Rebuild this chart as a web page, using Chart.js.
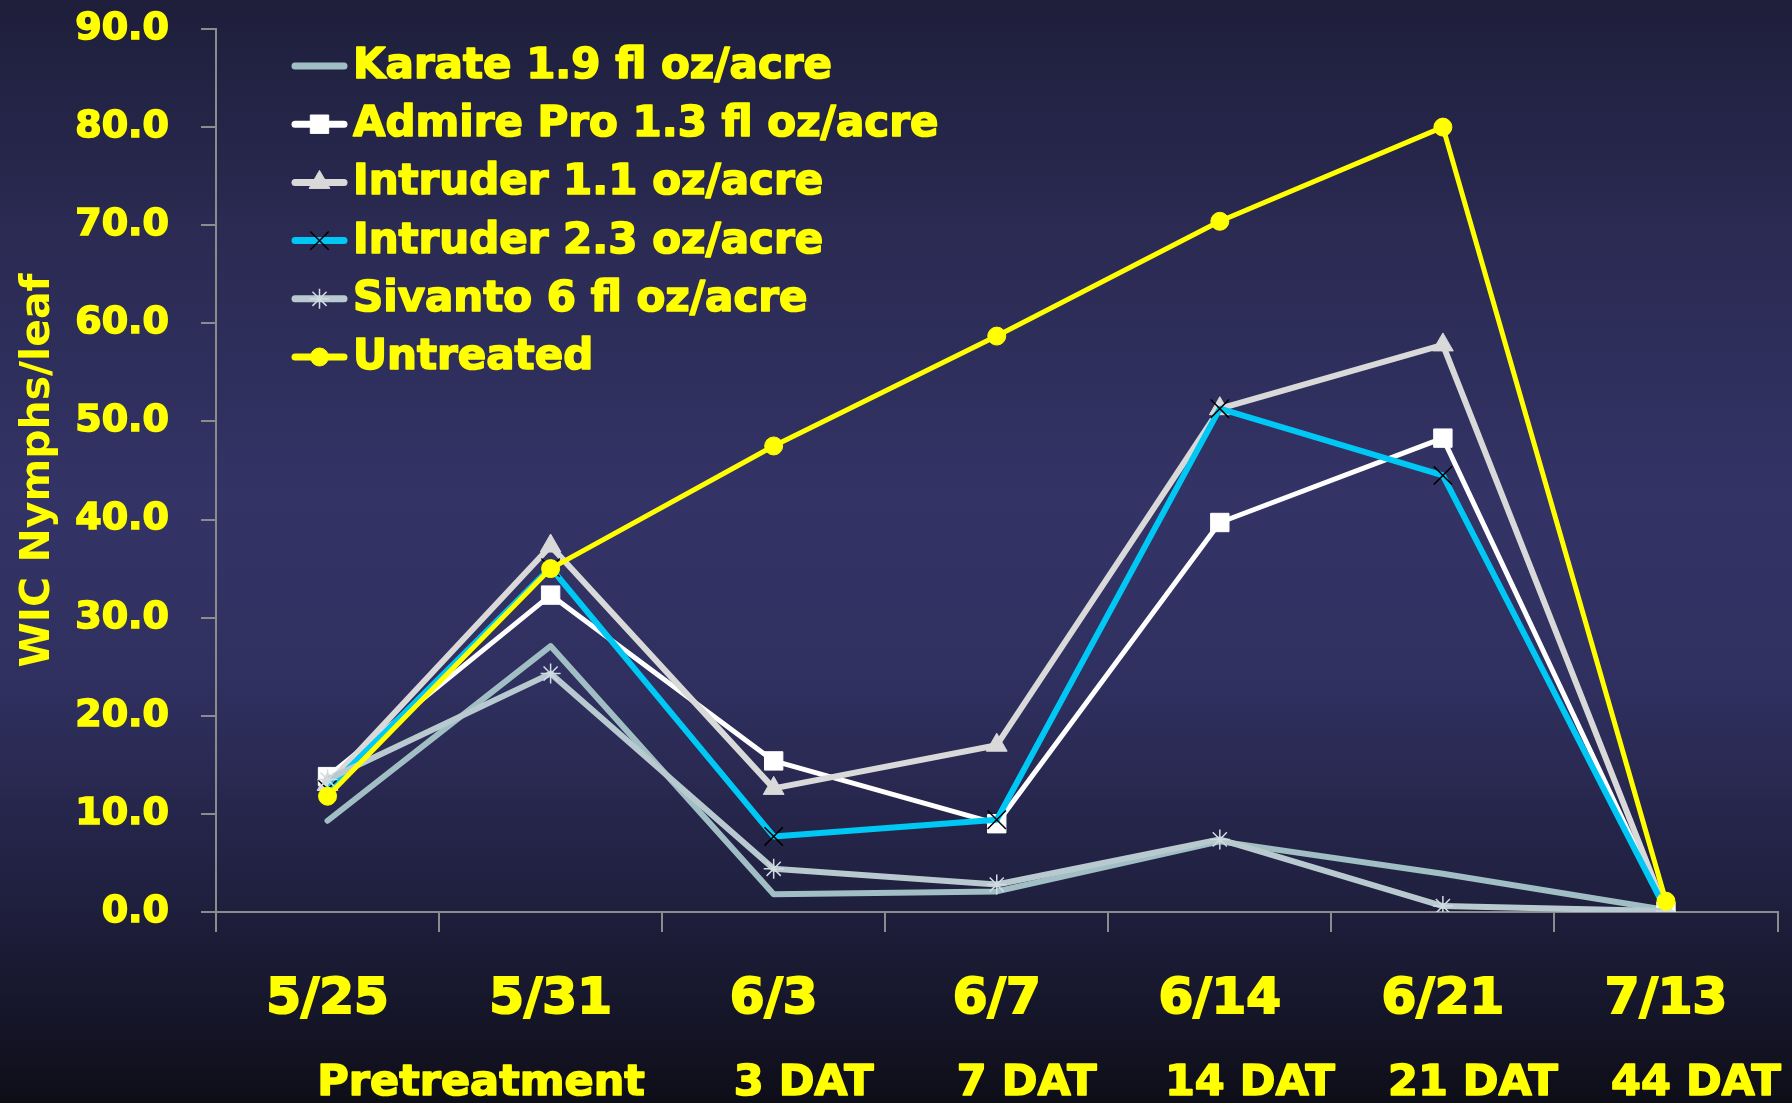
<!DOCTYPE html>
<html>
<head>
<meta charset="utf-8">
<script src="https://cdn.jsdelivr.net/npm/chart.js@4.4.1/dist/chart.umd.min.js"></script>
<style>
  html, body { margin: 0; padding: 0; background: #15152a; }
  #wrap { width: 1792px; height: 1103px; }
  canvas { display: block; }
</style>
</head>
<body>
<div id="wrap"><canvas id="c" width="1792" height="1103"></canvas></div>
<script>
// ---- data ----
const categories = ["5/25", "5/31", "6/3", "6/7", "6/14", "6/21", "7/13"];
const karate     = [9.3, 27.1, 1.8, 2.1, 7.2, 3.9, 0.2];
const admirePro  = [13.8, 32.3, 15.4, 9.0, 39.7, 48.3, 0.1];
const intruder11 = [13.0, 37.3, 12.6, 17.0, 51.3, 57.8, 0.1];
const intruder23 = [12.5, 35.1, 7.7, 9.4, 51.3, 44.5, 0.2];
const sivanto    = [13.5, 24.3, 4.4, 2.8, 7.4, 0.6, 0.1];
const untreated  = [11.8, 35.0, 47.5, 58.7, 70.4, 80.0, 1.1];
const seriesNames = ["Karate 1.9 fl oz/acre", "Admire Pro 1.3 fl oz/acre", "Intruder 1.1 oz/acre",
                     "Intruder 2.3 oz/acre", "Sivanto 6 fl oz/acre", "Untreated"];
const phaseLabels = ["Pretreatment", "3 DAT", "7 DAT", "14 DAT", "21 DAT", "44 DAT"];
const phaseAt     = [0.5, 2, 3, 4, 5, 6];   // category positions the phase labels belong to
const yTitle = "WIC Nymphs/leaf";

const FONT = "'DejaVu Sans', 'Liberation Sans', Arial, sans-serif";
const YELLOW = "#ffff00";

const bgPlugin = {
  id: 'bg',
  beforeDraw(chart) {
    const { ctx, width, height } = chart;
    const g = ctx.createLinearGradient(0, 0, 0, height);
    g.addColorStop(0, '#1e1e3b');
    g.addColorStop(0.2, '#2a2a52');
    g.addColorStop(0.45, '#333366');
    g.addColorStop(0.62, '#303060');
    g.addColorStop(0.83, '#1e1e3c');
    g.addColorStop(1, '#0e0e18');
    ctx.save();
    ctx.fillStyle = g;
    ctx.fillRect(0, 0, width, height);
    ctx.restore();
  }
};

function drawMarker(ctx, ds, x, y) {
  const style = ds.pointStyle;
  const r = ds.pointRadius;
  if (!r) return;
  ctx.save();
  ctx.fillStyle = ds.pointBackgroundColor;
  ctx.strokeStyle = ds.pointBorderColor;
  ctx.lineWidth = ds.pointBorderWidth;
  ctx.lineCap = 'butt';
  ctx.beginPath();
  if (style === 'circle') {
    ctx.arc(x, y, r, 0, Math.PI * 2);
    ctx.fill(); ctx.stroke();
  } else if (style === 'rect') {
    const s = Math.SQRT1_2 * r;
    ctx.rect(x - s, y - s, 2 * s, 2 * s);
    ctx.fill(); ctx.stroke();
  } else if (style === 'triangle') {
    let rad = 0;
    ctx.moveTo(x + Math.sin(rad) * r, y - Math.cos(rad) * r);
    rad += 2 * Math.PI / 3;
    ctx.lineTo(x + Math.sin(rad) * r, y - Math.cos(rad) * r);
    rad += 2 * Math.PI / 3;
    ctx.lineTo(x + Math.sin(rad) * r, y - Math.cos(rad) * r);
    ctx.closePath();
    ctx.fill(); ctx.stroke();
  } else if (style === 'crossRot') {
    const o = Math.cos(Math.PI / 4) * r;
    ctx.moveTo(x - o, y - o); ctx.lineTo(x + o, y + o);
    ctx.moveTo(x - o, y + o); ctx.lineTo(x + o, y - o);
    ctx.stroke();
  } else if (style === 'star') {
    const o = Math.cos(Math.PI / 4) * r;
    ctx.moveTo(x, y - r); ctx.lineTo(x, y + r);
    ctx.moveTo(x - r, y); ctx.lineTo(x + r, y);
    ctx.moveTo(x - o, y - o); ctx.lineTo(x + o, y + o);
    ctx.moveTo(x - o, y + o); ctx.lineTo(x + o, y - o);
    ctx.stroke();
  }
  ctx.restore();
}

function boldText(ctx, t, x, y, sw) {
  ctx.lineWidth = sw;
  ctx.strokeStyle = ctx.fillStyle;
  ctx.lineJoin = 'round';
  ctx.strokeText(t, x, y);
  ctx.fillText(t, x, y);
}

const legendPlugin = {
  id: 'customLegend',
  afterDraw(chart) {
    const { ctx } = chart;
    const x0 = 292, x1 = 347, tx = 353, y0 = 66, dy = 58.2;
    chart.data.datasets.forEach((ds, i) => {
      const y = y0 + i * dy;
      ctx.save();
      ctx.strokeStyle = ds.borderColor;
      ctx.lineWidth = 7;
      ctx.lineCap = 'round';
      ctx.beginPath();
      ctx.moveTo(x0 + 3, y); ctx.lineTo(x1 - 3, y);
      ctx.stroke();
      ctx.restore();
      drawMarker(ctx, ds, (x0 + x1) / 2, y);
      ctx.save();
      ctx.fillStyle = YELLOW;
      ctx.font = "bold 42px " + FONT;
      ctx.textAlign = 'left';
      ctx.textBaseline = 'middle';
      boldText(ctx, ds.label, tx, y + 1, 1.6);
      ctx.restore();
    });
  }
};

const phasePlugin = {
  id: 'phaseLabels',
  afterDraw(chart) {
    const { ctx } = chart;
    const xs = chart.scales.x;
    ctx.save();
    ctx.fillStyle = YELLOW;
    ctx.font = "bold 43px " + FONT;
    ctx.textAlign = 'center';
    ctx.textBaseline = 'alphabetic';
    phaseLabels.forEach((t, i) => {
      const shift = i === 0 ? 42 : 30;
      const x = xs.getPixelForValue(phaseAt[i]) + shift;
      boldText(ctx, t, x, 1095, 1.6);
    });
    ctx.restore();
  }
};

function mk(label, data, color, width, style, radius, bg, border, bw, order) {
  return {
    label, data,
    borderColor: color, backgroundColor: color,
    borderWidth: width,
    pointStyle: style,
    pointRadius: radius,
    pointHoverRadius: radius,
    pointBackgroundColor: bg,
    pointBorderColor: border,
    pointBorderWidth: bw,
    tension: 0,
    order,
    borderJoinStyle: 'round',
    borderCapStyle: 'round'
  };
}

const datasets = [
  mk(seriesNames[0], karate,     '#a0bec4', 6, 'circle',   0,  '#a0bec4', '#a0bec4', 0, 5),
  mk(seriesNames[1], admirePro,  '#ffffff', 5, 'rect',     13, '#ffffff', '#ffffff', 1, 4),
  mk(seriesNames[2], intruder11, '#d9d9d9', 6, 'triangle', 12, '#d9d9d9', '#d9d9d9', 1, 3),
  mk(seriesNames[3], intruder23, '#00c8f5', 6, 'crossRot', 13, '#000000', '#000000', 1.5, 2),
  mk(seriesNames[4], sivanto,    '#b8cacf', 6, 'star',     10, '#d0dce2', '#d0dce2', 1.5, 1),
  mk(seriesNames[5], untreated,  '#ffff00', 5, 'circle',   9,  '#ffff00', '#ffff00', 1, 0)
];

new Chart(document.getElementById('c'), {
  type: 'line',
  data: { labels: categories, datasets },
  options: {
    responsive: false,
    devicePixelRatio: 1,
    animation: false,
    events: [],
    layout: { padding: { top: 29, right: 12, bottom: 0, left: 0 } },
    plugins: {
      legend: { display: false },
      tooltip: { enabled: false },
      title: { display: false }
    },
    scales: {
      x: {
        offset: true,
        grid: {
          display: true, drawOnChartArea: false, drawTicks: true,
          tickLength: 20, color: '#8c8c8c', lineWidth: 2, offset: true
        },
        border: { display: true, color: '#8c8c8c', width: 2 },
        ticks: {
          color: YELLOW, padding: 38, autoSkip: false, maxRotation: 0,
          textStrokeColor: YELLOW, textStrokeWidth: 2,
          font: { family: FONT, size: 50, weight: 'bold' }
        },
        afterFit(scale) { scale.height = 191; }
      },
      y: {
        min: 0, max: 90,
        grid: {
          display: true, drawOnChartArea: false, drawTicks: true,
          tickLength: 15, color: '#8c8c8c', lineWidth: 2
        },
        border: { display: true, color: '#8c8c8c', width: 2 },
        ticks: {
          stepSize: 10, color: YELLOW, padding: 32,
          textStrokeColor: YELLOW, textStrokeWidth: 1.6,
          font: { family: FONT, size: 38, weight: 'bold' },
          callback: (v) => Number(v).toFixed(1)
        },
        title: {
          display: true, text: yTitle, color: YELLOW,
          font: { family: FONT, size: 41, weight: 'bold' },
          padding: { top: 14, bottom: 0 }
        },
        afterFit(scale) {
          scale.width = 216;
          scale.paddingTop = 0;
          scale.paddingBottom = 0;
        }
      }
    }
  },
  plugins: [bgPlugin, legendPlugin, phasePlugin]
});
</script>
</body>
</html>
